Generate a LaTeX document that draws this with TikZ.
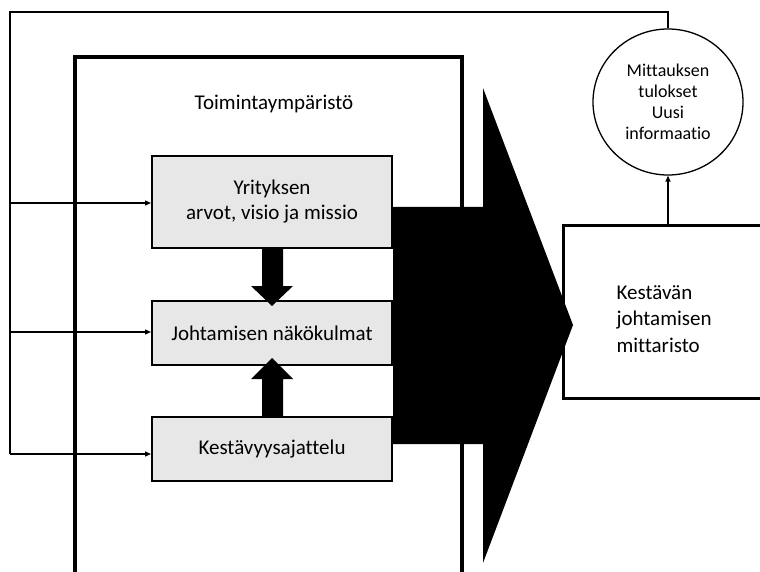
\documentclass[tikz,border=0pt]{standalone}
\usepackage{fontspec}
\setmainfont{Carlito}[Ligatures={NoCommon}]
\usetikzlibrary{arrows.meta,shapes.geometric}
\definecolor{boxgray}{RGB}{231,231,231}
\tikzset{
  graybox/.style={draw=black,line width=2pt,fill=boxgray,minimum width=240pt,align=center,inner sep=0pt,font=\fontsize{21}{25}\selectfont},
  thin/.style={line width=1.3pt},
  tip/.style={-{Triangle[length=6pt,width=5pt]}},
  blockarrow/.style={fill=black,draw=none},
}
\begin{document}
\begin{tikzpicture}[x=1pt,y=-1pt]
\useasboundingbox (0,0) rectangle (760,572);
\clip (0,0) rectangle (760,572);
\fill[white] (0,0) rectangle (760,572);
% nodes
\node[graybox,minimum height=92pt] (yr) at (272,202) {Yrityksen\\arvot, visio ja missio};
\node[graybox,minimum height=64pt] (jo) at (272,333) {Johtamisen näkökulmat};
\node[graybox,minimum height=64pt] (ke) at (272,449) {Kestävyysajattelu};
\node[font=\fontsize{21}{25}\selectfont] (toim) at (274,104) {Toimintaympäristö};
\node[ellipse,draw,line width=1.3pt,minimum width=150pt,minimum height=146pt,inner sep=0pt,align=center,font=\fontsize{18}{21}\selectfont] (circ) at (668,102) {Mittauksen\\tulokset\\Uusi\\informaatio};
\node[draw,line width=3pt,minimum width=202pt,minimum height=173pt,anchor=north west] (kbox) at (562,224) {};
\node[anchor=west,align=left,font=\fontsize{21}{26.5}\selectfont] (ktext) at (613,319) {Kestävän\\johtamisen\\mittaristo};
% feedback lines
\coordinate (top) at (circ.north |- 0,12);
\coordinate (tl) at (10,12);
\coordinate (fa) at (10,203);
\coordinate (fb) at (10,332);
\coordinate (fc) at (10,454);
\draw[thin] (circ.north) -- (top) -- (tl) -- (fc);
\draw[thin,tip] (fa) -- (yr.west |- fa);
\draw[thin,tip] (fb) -- (jo.west |- fb);
\draw[thin,tip] (fc) -- (ke.west |- fc);
% main box
\draw[line width=4pt] (75,590) -- (75,57) -- (462,57) -- (462,590);
% redraw gray boxes above
\node[graybox,minimum height=92pt] at (yr) {Yrityksen\\arvot, visio ja missio};
\node[graybox,minimum height=64pt] at (jo) {Johtamisen näkökulmat};
\node[graybox,minimum height=64pt] at (ke) {Kestävyysajattelu};
% block arrows between boxes
\fill[blockarrow] (262,248) -- (283,248) -- (283,286) -- (293,286) -- (272,306) -- (251,286) -- (262,286) -- cycle;
\fill[blockarrow] (262,417) -- (283,417) -- (283,379) -- (293,379) -- (272,358) -- (251,379) -- (262,379) -- cycle;
% big arrow
\fill[blockarrow] (393,207) -- (483,207) -- (483,88) -- (573,325) -- (483,563) -- (483,444) -- (393,444) -- cycle;
% arrow from kbox to circle
\draw[thin,tip] (circ.south |- kbox.north) -- (circ.south);
\end{tikzpicture}
\end{document}
